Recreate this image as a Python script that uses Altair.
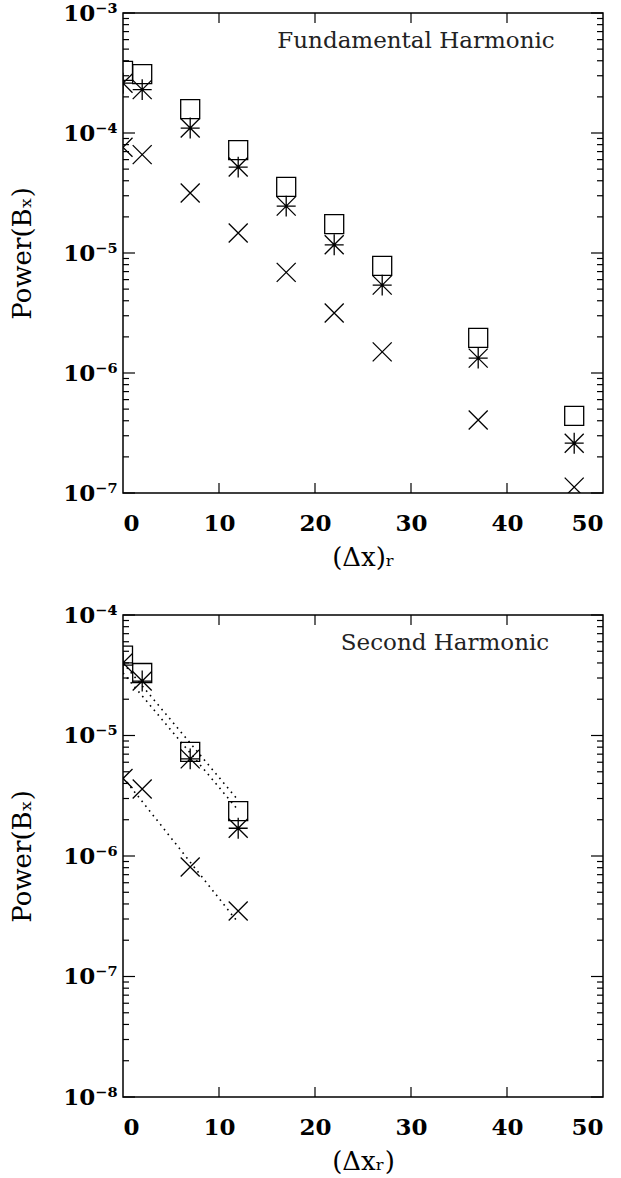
import altair as alt
import pandas as pd

# ---- data -------------------------------------------------------------
# Fundamental harmonic: power of B_x against (dx)_r for three runs
dx_fund = [0, 2, 7, 12, 17, 22, 27, 37, 47]
fund_square = [3.3e-4, 3.1e-4, 1.58e-4, 7.2e-5, 3.55e-5, 1.74e-5, 7.8e-6, 1.96e-6, 4.4e-7]
fund_star = [2.6e-4, 2.3e-4, 1.10e-4, 5.2e-5, 2.46e-5, 1.17e-5, 5.4e-6, 1.33e-6, 2.6e-7]
fund_cross = [7.6e-5, 6.6e-5, 3.16e-5, 1.47e-5, 6.9e-6, 3.16e-6, 1.5e-6, 4.06e-7, 1.12e-7]

# Second harmonic
dx_second = [0, 2, 7, 12]
second_square = [4.6e-5, 3.3e-5, 7.3e-6, 2.36e-6]
second_star = [4.0e-5, 2.83e-5, 6.4e-6, 1.7e-6]
second_cross = [4.4e-6, 3.6e-6, 8.1e-7, 3.5e-7]

# Dotted power-law fits drawn over the second harmonic (end points)
fit_dx = [0, 12]
fit_a = [4.0e-5, 2.9e-6]
fit_b = [3.3e-5, 2.4e-6]
fit_c = [4.5e-6, 2.8e-7]

x_ticks = [0, 10, 20, 30, 40, 50]
series_names = ["square", "star", "cross"]

# ---- styling ----------------------------------------------------------
FONT = "DejaVu Serif"
W = 480
SQUARE = "M-1,-1L1,-1L1,1L-1,1Z"
STAR = "M-1,-1L1,1M-1,1L1,-1M0,-1.1L0,1.1M-1,0L1,0"
CROSS = "M-1,-1L1,1M-1,1L1,-1"

SUP = str.maketrans("-0123456789", "⁻⁰¹²³⁴⁵⁶⁷⁸⁹")


def decade_label_expr(exponents):
    expr = "''"
    for e in exponents:
        lab = "10" + str(e).translate(SUP)
        expr = f"round(log(datum.value)/LN10) == {e} ? '{lab}' : ({expr})"
    return expr


def long_frame(dx, square, star, cross):
    rows = []
    for name, vals in zip(series_names, [square, star, cross]):
        for x, v in zip(dx, vals):
            rows.append({"dx": x, "power": v, "series": name})
    return pd.DataFrame(rows)


def panel(points, exps, title_text, title_x, xtitle, height, fits=None):
    lo, hi = min(exps), max(exps)
    xscale = alt.Scale(domain=[0, 50], nice=False, zero=False)
    yscale = alt.Scale(type="log", domain=[10.0 ** lo, 10.0 ** hi], nice=False)
    x_axis = alt.Axis(values=x_ticks, ticks=False, domain=False, grid=False,
                      labelPadding=19, title=xtitle, titlePadding=9)
    y_axis = alt.Axis(values=[10.0 ** e for e in exps],
                      labelExpr=decade_label_expr(exps),
                      ticks=False, domain=False, grid=False, labelPadding=6,
                      title="Power(Bₓ)", titlePadding=27)
    X = lambda: alt.X("dx:Q", scale=xscale, axis=x_axis)
    Y = lambda: alt.Y("power:Q", scale=yscale, axis=y_axis)

    pts = alt.Chart(points).mark_point(
        filled=False, clip=True, strokeWidth=1.3, color="black", opacity=1
    ).encode(
        x=X(), y=Y(),
        shape=alt.Shape("series:N", scale=alt.Scale(
            domain=series_names, range=[SQUARE, STAR, CROSS]), legend=None),
        size=alt.value(361),
    )

    majors = pd.DataFrame({"power": [10.0 ** e for e in exps]})
    minors = pd.DataFrame({"power": [m * 10.0 ** e for e in range(lo, hi)
                                     for m in range(2, 10)]})
    xt = pd.DataFrame({"dx": x_ticks[1:-1]})

    def yrule(df, x0, x1):
        return alt.Chart(df).mark_rule(color="black", strokeWidth=1.2).encode(
            y=Y(), x=alt.value(x0), x2=alt.value(x1))

    def xrule(y0, y1):
        return alt.Chart(xt).mark_rule(color="black", strokeWidth=1.2).encode(
            x=X(), y=alt.value(y0), y2=alt.value(y1))

    ticks = [
        yrule(majors, 0, 12), yrule(majors, W - 12, W),
        yrule(minors, 0, 6), yrule(minors, W - 6, W),
        xrule(height, height - 10), xrule(0, 10),
    ]

    label = alt.Chart(pd.DataFrame({"t": [title_text]})).mark_text(
        font=FONT, fontSize=23, align="center", baseline="top", color="#222"
    ).encode(x=alt.value(title_x), y=alt.value(17), text="t:N")

    layers = [pts] + ticks + [label]
    if fits is not None:
        fit_lines = alt.Chart(fits).mark_line(
            color="black", strokeWidth=1.6, strokeDash=[1.6, 4.4], clip=True
        ).encode(x=X(), y=Y(), detail="fit:N")
        layers.append(fit_lines)

    return alt.layer(*layers).properties(width=W, height=height)


fits = pd.DataFrame(
    [{"dx": x, "power": v, "fit": name}
     for name, vals in zip(["a", "b", "c"], [fit_a, fit_b, fit_c])
     for x, v in zip(fit_dx, vals)]
)

top = panel(long_frame(dx_fund, fund_square, fund_star, fund_cross),
            [-7, -6, -5, -4, -3], "Fundamental Harmonic", 293, "(Δx)ᵣ", 480)
bottom = panel(long_frame(dx_second, second_square, second_star, second_cross),
               [-8, -7, -6, -5, -4], "Second Harmonic", 322, "(Δxᵣ)", 482, fits)

chart = alt.vconcat(top, bottom, spacing=32).properties(
    padding={"left": 9, "top": 1, "right": 10, "bottom": 5},
    background="white",
).configure_view(
    stroke="black", strokeWidth=1.5
).configure_axis(
    labelFont=FONT, labelFontSize=23, labelFontWeight="bold", labelColor="black",
    titleFont=FONT, titleFontSize=26, titleFontWeight="normal", titleColor="black",
)

chart.save("out.html", embed_options={"renderer": "svg", "actions": False})
